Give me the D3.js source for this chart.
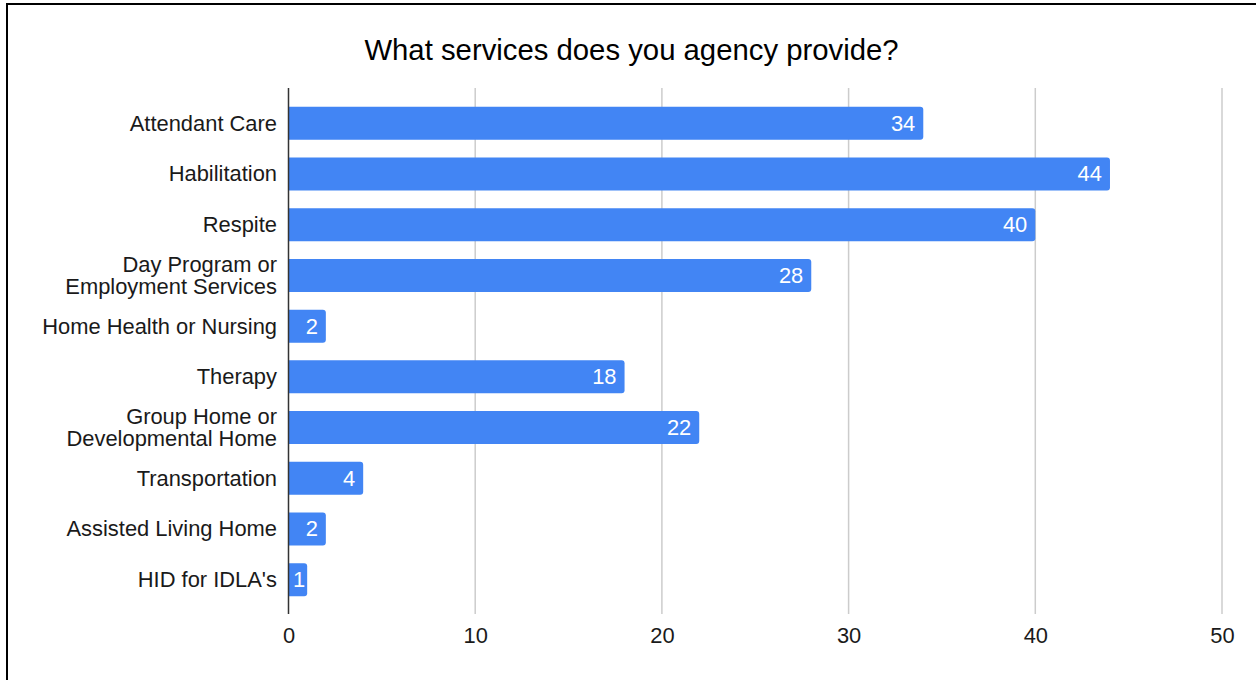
<!DOCTYPE html>
<html>
<head>
<meta charset="utf-8">
<script src="https://cdn.jsdelivr.net/npm/d3@7"></script>
<style>
  html, body { margin: 0; padding: 0; background: #fff; }
  svg { display: block; }
  text { font-family: "Liberation Sans", Arial, sans-serif; }
</style>
</head>
<body>
<svg id="chart" width="1256" height="680"></svg>
<script>
// Survey responses: services offered by each agency
const title = "What services does you agency provide?";
const categories = [
  "Attendant Care",
  "Habilitation",
  "Respite",
  "Day Program or\nEmployment Services",
  "Home Health or Nursing",
  "Therapy",
  "Group Home or\nDevelopmental Home",
  "Transportation",
  "Assisted Living Home",
  "HID for IDLA's"
];
const values = [34, 44, 40, 28, 2, 18, 22, 4, 2, 1];
const xTicks = [0, 10, 20, 30, 40, 50];

const svg = d3.select("#chart");
const W = 1256, H = 680;
const fs = 21.9;

svg.append("rect").attr("width", W).attr("height", H).attr("fill", "#fff");

// frame around the chart area
svg.append("rect")
  .attr("x", 7).attr("y", 4)
  .attr("width", W + 20).attr("height", H + 20)
  .attr("fill", "none").attr("stroke", "#000").attr("stroke-width", 2);

const x = d3.scaleLinear().domain([0, 50]).range([288.5, 1222]);
const y = d3.scaleBand().domain(categories).range([98, 605])
  .paddingInner(0.35).paddingOuter(0.175);

const gridTop = 88, gridBottom = 614;

// title
svg.append("text")
  .attr("x", 631.5).attr("y", 60)
  .attr("text-anchor", "middle")
  .attr("font-size", 29.3)
  .attr("fill", "#000")
  .text(title);

// vertical gridlines
svg.append("g")
  .selectAll("line")
  .data(xTicks.filter(d => d !== 0))
  .join("line")
  .attr("x1", d => x(d)).attr("x2", d => x(d))
  .attr("y1", gridTop).attr("y2", gridBottom)
  .attr("stroke", "#cccccc").attr("stroke-width", 1.5);

// x tick labels
const xAxis = d3.axisBottom(x).tickValues(xTicks).tickSize(0).tickPadding(0);
const gx = svg.append("g").attr("transform", `translate(0, ${gridBottom})`).call(xAxis);
gx.select(".domain").remove();
gx.selectAll("text")
  .attr("font-family", "\"Liberation Sans\", Arial, sans-serif")
  .attr("font-size", fs)
  .attr("fill", "#1a1a1a")
  .attr("dy", null)
  .attr("y", 29);

// bars with rounded right ends
const r = 3;
function barPath(x0, x1, y0, h) {
  const rr = Math.min(r, (x1 - x0) / 2);
  return `M${x0},${y0}H${x1 - rr}Q${x1},${y0} ${x1},${y0 + rr}` +
         `V${y0 + h - rr}Q${x1},${y0 + h} ${x1 - rr},${y0 + h}H${x0}Z`;
}
const data = categories.map((c, i) => ({ c, v: values[i] }));

svg.append("g")
  .selectAll("path")
  .data(data)
  .join("path")
  .attr("d", d => barPath(x(0), x(d.v), y(d.c), y.bandwidth()))
  .attr("fill", "#4285f4");

// value labels inside bar ends
svg.append("g")
  .selectAll("text")
  .data(data)
  .join("text")
  .attr("x", d => x(d.v) - (d.v < 2 ? 2 : 8))
  .attr("y", d => y(d.c) + y.bandwidth() / 2)
  .attr("dy", "0.34em")
  .attr("text-anchor", "end")
  .attr("font-size", fs)
  .attr("fill", "#fff")
  .text(d => d.v);

// category labels
const yl = svg.append("g");
data.forEach(d => {
  const lines = d.c.split("\n");
  const cy = y(d.c) + y.bandwidth() / 2;
  const lh = 22;
  const t = yl.append("text")
    .attr("text-anchor", "end")
    .attr("font-size", fs)
    .attr("fill", "#1a1a1a");
  lines.forEach((ln, i) => {
    t.append("tspan")
      .attr("x", 277)
      .attr("y", cy + (i - (lines.length - 1) / 2) * lh)
      .attr("dy", "0.34em")
      .text(ln);
  });
});

// zero baseline
svg.append("line")
  .attr("x1", x(0)).attr("x2", x(0))
  .attr("y1", gridTop).attr("y2", gridBottom)
  .attr("stroke", "#333").attr("stroke-width", 1.5);
</script>
</body>
</html>
